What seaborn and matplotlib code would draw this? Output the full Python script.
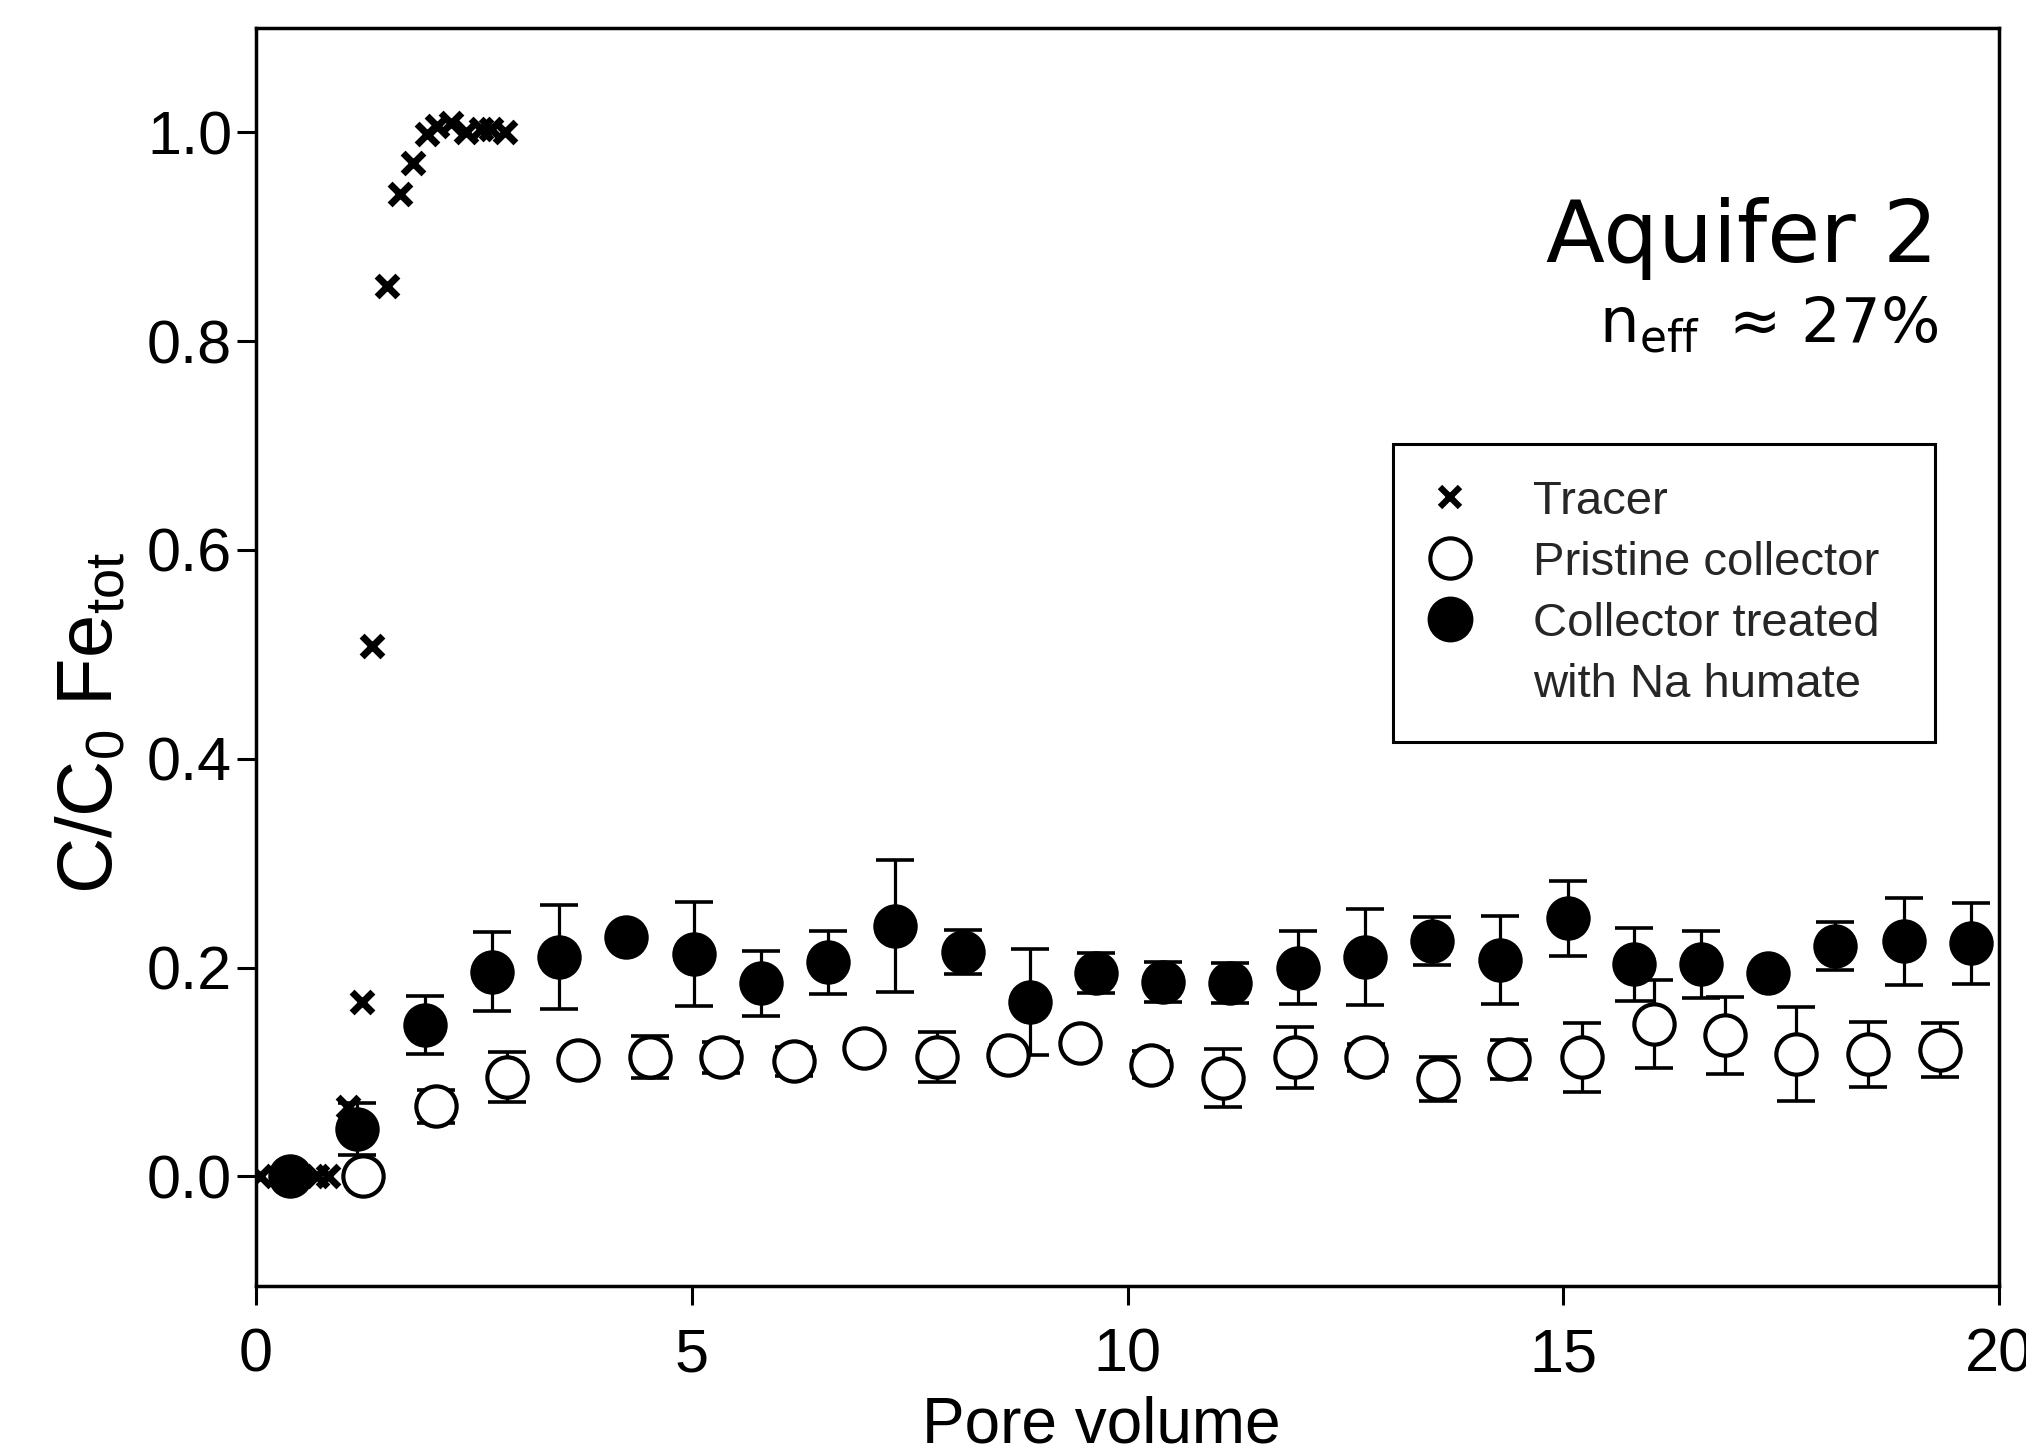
import matplotlib
matplotlib.use("Agg")
import matplotlib.pyplot as plt
from matplotlib.lines import Line2D
import pandas as pd
import seaborn as sns

# values (pore volume vs C/C0)
tracer_pv = [0.05, 0.70, 0.83, 1.06, 1.21, 1.33, 1.50, 1.65, 1.80, 1.96, 2.08, 2.24, 2.41, 2.58, 2.70, 2.86]
tracer_c = [0.0, 0.0, 0.0, 0.066, 0.167, 0.508, 0.853, 0.941, 0.971, 0.998, 1.006, 1.009, 1.0, 1.003, 1.003, 1.0]

pristine_pv = [1.23, 2.06, 2.88, 3.69, 4.52, 5.34, 6.17, 6.98, 7.81, 8.63, 9.45, 10.27,
               11.10, 11.92, 12.74, 13.56, 14.38, 15.21, 16.04, 16.85, 17.67, 18.50, 19.32]
pristine_c = [0.0, 0.067, 0.095, 0.111, 0.114, 0.114, 0.110, 0.123, 0.114, 0.116, 0.128, 0.107,
              0.094, 0.114, 0.114, 0.093, 0.112, 0.114, 0.146, 0.135, 0.117, 0.117, 0.121]
pristine_err = [0.0, 0.016, 0.024, 0.0, 0.020, 0.015, 0.014, 0.0, 0.024, 0.010, 0.0, 0.013,
                0.028, 0.029, 0.013, 0.021, 0.019, 0.033, 0.042, 0.037, 0.045, 0.031, 0.026]

treated_pv = [0.39, 1.16, 1.94, 2.71, 3.48, 4.25, 5.03, 5.79, 6.56, 7.33, 8.11, 8.88, 9.64,
              10.41, 11.18, 11.96, 12.72, 13.49, 14.27, 15.05, 15.81, 16.58, 17.35, 18.12, 18.91, 19.68]
treated_c = [0.0, 0.045, 0.145, 0.196, 0.210, 0.229, 0.213, 0.185, 0.205, 0.240, 0.215, 0.167, 0.195,
             0.186, 0.185, 0.200, 0.210, 0.225, 0.207, 0.247, 0.203, 0.203, 0.195, 0.221, 0.225, 0.223]
treated_err = [0.0, 0.025, 0.028, 0.038, 0.050, 0.0, 0.050, 0.031, 0.030, 0.063, 0.021, 0.051, 0.019,
               0.019, 0.019, 0.035, 0.046, 0.023, 0.042, 0.036, 0.035, 0.032, 0.0, 0.023, 0.042, 0.039]

tracer = pd.DataFrame({"pv": tracer_pv, "c": tracer_c})
pristine = pd.DataFrame({"pv": pristine_pv, "c": pristine_c, "err": pristine_err})
treated = pd.DataFrame({"pv": treated_pv, "c": treated_c, "err": treated_err})

sns.set_theme(style="ticks")
plt.rcParams["font.family"] = ["Liberation Sans", "DejaVu Sans"]

fig = plt.figure(figsize=(20.26, 14.46), dpi=100)
ax = fig.add_axes([0.1264, 0.1107, 0.8603, 0.8700])

# error bars first, markers on top
for df in (pristine, treated):
    ax.errorbar(df["pv"], df["c"], yerr=df["err"], fmt="none", ecolor="black",
                elinewidth=2.3, capsize=13.5, capthick=2.6, zorder=2)

sns.scatterplot(data=tracer, x="pv", y="c", ax=ax, marker="x", s=15**2,
                color="black", linewidth=5, zorder=2.5)
sns.scatterplot(data=pristine, x="pv", y="c", ax=ax, marker="o", s=29**2,
                facecolor="white", edgecolor="black", linewidth=3, zorder=3)
sns.scatterplot(data=treated, x="pv", y="c", ax=ax, marker="o", s=32**2,
                color="black", edgecolor="black", linewidth=0, zorder=4)

ax.set_xlim(0, 20)
ax.set_ylim(-0.105, 1.1)
ax.set_xticks([0, 5, 10, 15, 20])
ax.set_yticks([0.0, 0.2, 0.4, 0.6, 0.8, 1.0])
ax.set_yticklabels(["0.0", "0.2", "0.4", "0.6", "0.8", "1.0"])
ax.tick_params(direction="out", length=13.7, width=2.2, labelsize=44, color="black", labelcolor="black")
ax.tick_params(axis="y", pad=3.6)
ax.tick_params(axis="x", pad=16)
for sp in ax.spines.values():
    sp.set_linewidth(2.5)
    sp.set_color("black")

ax.set_xlabel("Pore volume", fontsize=46, color="black")
ax.xaxis.set_label_coords(0.485, -0.087)
ax.set_ylabel("C/C$_\\mathregular{0}$ Fe$_\\mathregular{tot}$", fontsize=56, color="black")
ax.yaxis.set_label_coords(-0.0734, 0.4475)

ax.text(0.965, 0.814, "Aquifer 2", transform=ax.transAxes, ha="right", va="baseline",
        fontsize=62, family="DejaVu Sans", color="black")
ax.text(0.965, 0.750, "n$_\\mathregular{eff}\\,$ \u2248 27%", transform=ax.transAxes, ha="right",
        va="baseline", fontsize=45, family="DejaVu Sans", color="black")

handles = [
    Line2D([], [], marker="x", ls="none", color="black", ms=14, mew=4.5),
    Line2D([], [], marker="o", ls="none", mfc="white", mec="black", ms=29, mew=3),
    Line2D([], [], marker="o", ls="none", mfc="black", mec="black", ms=32),
    Line2D([], [], ls="none"),
]
labels = ["Tracer", "Pristine collector", "Collector treated", "with Na humate"]
leg = ax.legend(handles, labels, loc="upper left", bbox_to_anchor=(0.652, 0.434, 0.311, 0.235),
                mode="expand", borderaxespad=0, fontsize=34, frameon=True, fancybox=False,
                edgecolor="black", framealpha=1, borderpad=0.75, handlelength=0.92,
                handletextpad=1.3, labelspacing=0.36, numpoints=1)
leg.get_frame().set_linewidth(2.2)

fig.savefig("out.png", dpi=100)
